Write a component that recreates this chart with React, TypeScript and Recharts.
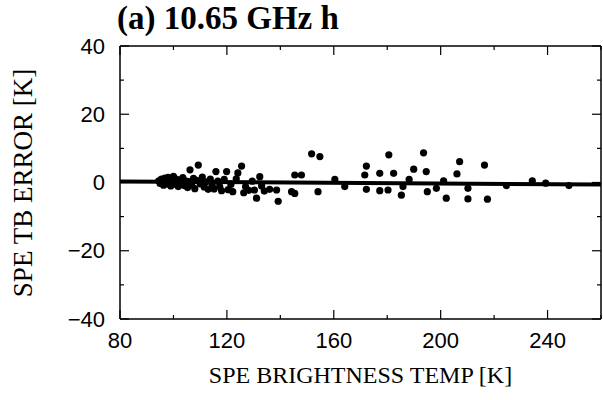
import React from "react"
import {
    ScatterChart,
    Scatter,
    XAxis,
    YAxis,
    ReferenceLine,
} from "recharts"

// SPE brightness temp [K]
const speTemp = [
    94.5, 95, 95.5, 96, 96.3, 96.8, 97, 97.5, 98, 98.2, 98.8, 99, 99.5, 100, 100.3,
    100.8, 101.2, 101.8, 102.3, 102.8, 103.5, 104, 104.5, 105.3, 105.8, 106.2, 106.8,
    107.5, 108, 108.6, 109.3, 110, 110.8, 111.5, 112.3, 113, 113.8, 114.5, 115.2,
    115.9, 116.6, 117.3, 118, 119, 119.9, 120.5, 121.5, 122.2, 123.5, 124.1, 125.5,
    126.3, 127, 128.2, 129.5, 130.3, 131.1, 132.3, 133, 134, 136, 138.6, 139.2,
    144.2, 145.4, 145.4, 147.9, 151.7, 154.8, 154.1, 160.4, 164.1, 171.6, 172.2,
    172.2, 177.2, 177.2, 180.6, 180.3, 182.4, 185.9, 185.3, 188.2, 189.9, 193.6,
    194.6, 195, 198.4, 201.1, 202.1, 206.1, 207.1, 210.2, 210.2, 216.4, 217.5,
    224.6, 234.3, 239.3, 248,
]

// SPE TB error [K]
const tbError = [
    0.5, -0.3, 1.0, 0.2, -0.8, 1.3, 0.6, -0.4, 1.5, 0.0, 0.9, -1.0, 0.4, 1.8, -0.5,
    1.1, 0.2, -1.2, 0.8, -0.2, 1.4, -0.9, 0.5, -1.5, 0.3, 3.7, -0.6,
    1.2, -1.8, 0.6, 5.1, -0.4, 1.6, -1.3, 0.2, -2.0, 1.0, -0.8, -1.9,
    3.2, 0.4, -1.2, -2.4, 0.9, 3.2, -2.1, -0.6, -2.7, 1.1, 2.8, 4.8,
    -3.0, -1.2, -2.3, 0.4, -2.2, -4.6, 1.7, -1.0, -2.5, -2.0, -2.2, -5.5,
    -2.7, -3.2, 2.2, 2.2, 8.4, 7.6, -2.7, 0.9, -1.2, 2.2, 4.8,
    -2.0, 2.7, -2.4, 8.1, -2.2, 2.7, -1.2, -3.7, 0.9, 3.9, 8.7,
    3.2, -2.7, -1.7, 0.5, -4.6, 2.5, 6.1, -1.7, -4.8, 5.1, -4.9,
    -0.9, 0.5, -0.2, -0.9,
]

// regression line end points
const fitX = [80, 260]
const fitY = [0.3, -0.6]

const xTicks = [80, 100, 120, 140, 160, 180, 200, 220, 240, 260]
const xLabelTicks = [80, 120, 160, 200, 240]
const yTicks = [-40, -30, -20, -10, 0, 10, 20, 30, 40]
const yLabelTicks = [-40, -20, 0, 20, 40]

const points = speTemp.map((x, i) => ({ x, y: tbError[i] }))

const W = 603
const H = 400
const LEFT = 120
const TOP = 46
const RIGHT = 601
const BOTTOM = 319
const AX = 10 // size given to every axis band

const sans = "'Liberation Sans', Arial, sans-serif"
const serif = "'Liberation Serif', 'Times New Roman', serif"

function fmt(v: number) {
    return v < 0 ? `\u2212${Math.abs(v)}` : `${v}`
}

// ticks point inward, labels only on major ones
function BottomTick(props: any) {
    const { x, payload } = props
    const major = xLabelTicks.includes(payload.value)
    const len = major ? 9 : 4
    return (
        <g>
            <line x1={x} y1={BOTTOM} x2={x} y2={BOTTOM - len} stroke="#000" strokeWidth={1.2} />
            {major && (
                <text x={x} y={BOTTOM + 21} textAnchor="middle" dominantBaseline="central"
                    fontFamily={sans} fontSize={22} fill="#000">
                    {payload.value}
                </text>
            )}
        </g>
    )
}

function TopTick(props: any) {
    const { x, payload } = props
    const major = xLabelTicks.includes(payload.value)
    const len = major ? 9 : 4
    return <line x1={x} y1={TOP} x2={x} y2={TOP + len} stroke="#000" strokeWidth={1.2} />
}

function LeftTick(props: any) {
    const { y, payload } = props
    const major = yLabelTicks.includes(payload.value)
    const len = major ? 9 : 4
    return (
        <g>
            <line x1={LEFT} y1={y} x2={LEFT + len} y2={y} stroke="#000" strokeWidth={1.2} />
            {major && (
                <text x={LEFT - 15} y={y} textAnchor="end" dominantBaseline="central"
                    fontFamily={sans} fontSize={22} fill="#000">
                    {fmt(payload.value)}
                </text>
            )}
        </g>
    )
}

function RightTick(props: any) {
    const { y, payload } = props
    const major = yLabelTicks.includes(payload.value)
    const len = major ? 9 : 4
    return <line x1={RIGHT} y1={y} x2={RIGHT - len} y2={y} stroke="#000" strokeWidth={1.2} />
}

function Dot(props: any) {
    return <circle cx={props.cx} cy={props.cy} r={3.6} fill="#000" />
}

export default function App() {
    return (
        <div style={{ position: "relative", width: W, height: H, background: "#fff" }}>
            <style>{"body{margin:0}"}</style>
            <ScatterChart
                width={W}
                height={H}
                margin={{ top: TOP - AX, right: W - RIGHT - AX, bottom: H - BOTTOM - AX, left: LEFT - AX }}
            >
                <XAxis xAxisId="b" type="number" dataKey="x" domain={[80, 260]} ticks={xTicks}
                    orientation="bottom" height={AX} tickLine={false} tick={<BottomTick />}
                    axisLine={{ stroke: "#000", strokeWidth: 1.5 }} allowDataOverflow interval={0} />
                <XAxis xAxisId="t" type="number" dataKey="x" domain={[80, 260]} ticks={xTicks}
                    orientation="top" height={AX} tickLine={false} tick={<TopTick />}
                    axisLine={{ stroke: "#000", strokeWidth: 1.5 }} allowDataOverflow interval={0} />
                <YAxis yAxisId="l" type="number" dataKey="y" domain={[-40, 40]} ticks={yTicks}
                    orientation="left" width={AX} tickLine={false} tick={<LeftTick />}
                    axisLine={{ stroke: "#000", strokeWidth: 1.5 }} allowDataOverflow interval={0} />
                <YAxis yAxisId="r" type="number" dataKey="y" domain={[-40, 40]} ticks={yTicks}
                    orientation="right" width={AX} tickLine={false} tick={<RightTick />}
                    axisLine={{ stroke: "#000", strokeWidth: 1.5 }} allowDataOverflow interval={0} />
                <ReferenceLine
                    xAxisId="b"
                    yAxisId="l"
                    segment={[{ x: fitX[0], y: fitY[0] }, { x: fitX[1], y: fitY[1] }]}
                    stroke="#000"
                    strokeWidth={4}
                    ifOverflow="hidden"
                />
                <Scatter xAxisId="b" yAxisId="l" data={points} shape={<Dot />} isAnimationActive={false} />
            </ScatterChart>
            <div style={{
                position: "absolute", left: 117, top: 0, fontFamily: serif, fontWeight: "bold",
                fontSize: 33, lineHeight: "36px", color: "#000", whiteSpace: "nowrap",
            }}>
                (a) 10.65 GHz h
            </div>
            <div style={{
                position: "absolute", left: LEFT, width: RIGHT - LEFT, top: 360, textAlign: "center",
                fontFamily: serif, fontSize: 24, lineHeight: "30px", color: "#000", whiteSpace: "nowrap",
            }}>
                SPE BRIGHTNESS TEMP [K]
            </div>
            <div style={{
                position: "absolute", left: 23, top: (TOP + BOTTOM) / 2, transform: "translate(-50%, -50%) rotate(-90deg)",
                fontFamily: serif, fontSize: 27, lineHeight: "30px", color: "#000", whiteSpace: "nowrap",
            }}>
                SPE TB ERROR [K]
            </div>
        </div>
    )
}
